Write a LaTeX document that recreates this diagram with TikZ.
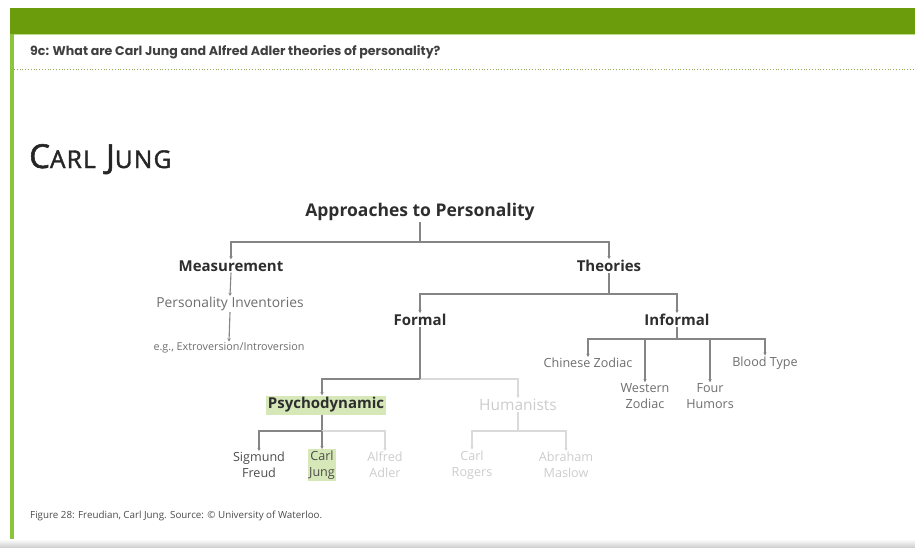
\documentclass[tikz,border=0pt]{standalone}
\usepackage{fontspec}
\setmainfont{Open Sans}
\newfontfamily\hdfont{Poppins}
\newfontfamily\ttlfont[FakeBold=1.6, LetterSpace=5]{Open Sans}
\usetikzlibrary{arrows.meta}
\definecolor{greenbar}{HTML}{6A9C0C}
\definecolor{greenline}{HTML}{8CC43C}
\definecolor{dotgreen}{HTML}{8FA85A}
\definecolor{txtdark}{HTML}{2E2E2E}
\definecolor{txtgrey}{HTML}{6E6E6E}
\definecolor{txtlight}{HTML}{CDCDCD}
\definecolor{lndark}{HTML}{858585}
\definecolor{lnlight}{HTML}{DADADA}
\definecolor{hilite}{HTML}{D6E8B8}
\tikzset{
  head/.style={font=\bfseries\fontsize{15}{17}\selectfont, text=txtdark, inner sep=1pt},
  leaf/.style={font=\fontsize{12.6}{16}\selectfont, text=txtgrey, inner sep=1pt, align=center},
  leaflight/.style={leaf, text=txtlight},
  headlight/.style={head, font=\fontsize{15.5}{17}\selectfont, text=txtlight},
  tline/.style={draw=lndark, line width=1.1pt},
  tarr/.style={tline, -{Stealth[length=3.2pt,width=3.4pt]}},
  tlinelight/.style={draw=lnlight, line width=1.1pt},
  tarrlight/.style={tlinelight, -{Stealth[length=3.2pt,width=3.4pt]}},
}
\begin{document}
\begin{tikzpicture}[x=1pt,y=-1pt]
\useasboundingbox (0,0) rectangle (915,547);
\fill[white] (0,0) rectangle (915,547);
% page frame
\fill[greenbar] (10,8) rectangle (915,34);
\fill[greenline] (10,34) rectangle (14,540);
\draw[greenline!60, line width=0.6pt] (14,34.3) -- (915,34.3);
\draw[dotgreen, dotted, line width=0.8pt] (14,69) -- (915,69);
\shade[top color=white, bottom color=black!18] (0,539) rectangle (915,547);
\node[anchor=west, inner sep=0pt, text=black!75, font=\hdfont\bfseries\fontsize{12.6}{14}\selectfont] (hdr) at (30,52) {9c: What are Carl Jung and Alfred Adler theories of personality?};
\node[anchor=base west, inner sep=0pt, text=black!85, font=\ttlfont\fontsize{33}{35}\selectfont] (title) at (29,168) {C{\fontsize{24.5}{26}\selectfont ARL} J{\fontsize{24.5}{26}\selectfont UNG}};
% diagram nodes
\node[head, font=\bfseries\fontsize{17.5}{20}\selectfont] (app) at (420,212) {Approaches to Personality};
\node[head] (meas) at (231,266) {Measurement};
\node[head] (theo) at (609,266) {Theories};
\node[leaf, font=\fontsize{13.8}{16}\selectfont] (inv) at (230,304) {Personality Inventories};
\node[leaf, font=\fontsize{10.8}{12}\selectfont] (eg) at (229,348) {e.g., Extroversion/Introversion};
\node[head] (form) at (420,320) {Formal};
\node[head] (inf) at (677,320) {Informal};
\node[leaf] (chin) at (588,363) {Chinese Zodiac};
\node[leaf] (west) at (645,396) {Western\\Zodiac};
\node[leaf] (four) at (710,396) {Four\\Humors};
\node[leaf] (blood) at (765,363) {Blood Type};
\node[head, fill=hilite, inner sep=2pt] (psy) at (326,405) {Psychodynamic};
\node[headlight] (hum) at (518,405) {Humanists};
\node[leaf, text=txtdark!85] (freud) at (259,465) {Sigmund\\Freud};
\node[leaf, text=txtdark!85, fill=hilite, inner sep=1.5pt] (jung) at (322,465) {Carl\\Jung};
\node[leaflight] (adler) at (385,465) {Alfred\\Adler};
\node[leaflight] (rogers) at (472,465) {Carl\\Rogers};
\node[leaflight] (maslow) at (566,465) {Abraham\\Maslow};
% bar coordinates
\coordinate (b1) at (420,242);
\coordinate (b2) at (609,294);
\coordinate (b3) at (677,339);
\coordinate (b4) at (420,379);
\coordinate (b5) at (322,431);
\coordinate (b6) at (518,431);
% connectors
\draw[tline] (app.south) -- (b1);
\draw[tarr] (b1) -| (meas.north);
\draw[tarr] (b1) -| (theo.north);
\draw[tarr] (meas.south) -- (inv.north);
\draw[tarr] (inv.south) -- (eg.north);
\draw[tline] (theo.south) -- (b2);
\draw[tarr] (b2) -| (form.north);
\draw[tarr] (b2) -| (inf.north);
\draw[tline] (inf.south) -- (b3);
\draw[tarr] (b3) -| (chin.north);
\draw[tarr] (b3) -| (west.north);
\draw[tarr] (b3) -| (four.north);
\draw[tarr] (b3) -| (blood.north);
\draw[tarrlight] (b4) -| (hum.north);
\draw[tline] (form.south) -- (b4);
\draw[tarr] (b4) -| (b5 |- psy.north);
\draw[tline] (b5 |- psy.south) -- (b5);
\draw[tarrlight] (b5) -| (adler.north);
\draw[tarr] (b5) -| (freud.north);
\draw[tarr] (b5) -- (jung.north);
\draw[tlinelight] (hum.south) -- (b6);
\draw[tarrlight] (b6) -| (rogers.north);
\draw[tarrlight] (b6) -| (maslow.north);
% caption
\node[anchor=west, inner sep=0pt, text=black!70, font=\fontsize{9.8}{11}\selectfont] (cap) at (30,516) {Figure 28: Freudian, Carl Jung. Source: © University of Waterloo.};
\end{tikzpicture}
\end{document}
